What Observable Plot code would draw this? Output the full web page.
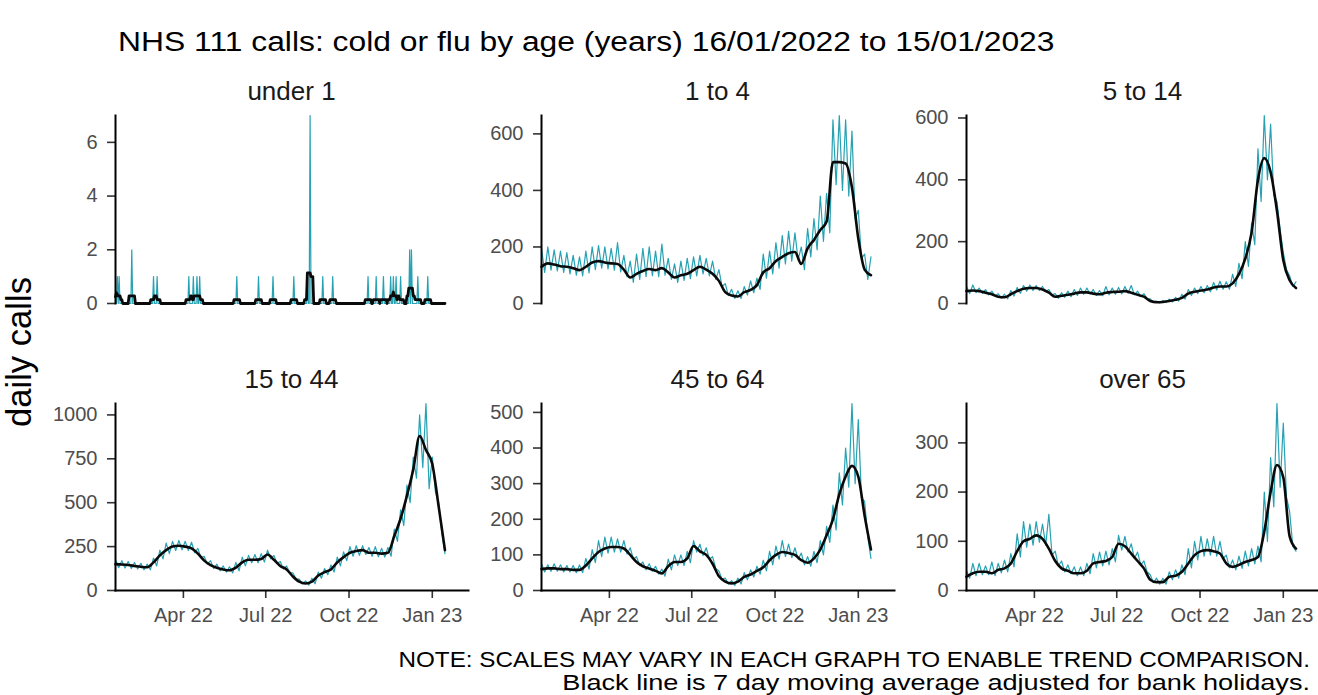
<!DOCTYPE html>
<html>
<head>
<meta charset="utf-8">
<script src="https://cdn.jsdelivr.net/npm/d3@7"></script>
<script src="https://cdn.jsdelivr.net/npm/@observablehq/plot@0.6"></script>
<style>
  html, body { margin: 0; padding: 0; background: #ffffff; }
  #root { position: relative; width: 1318px; height: 695px; overflow: hidden; background: #fff;
          font-family: "Liberation Sans", Arial, Helvetica, sans-serif; }
  #root svg.panel { position: absolute; overflow: visible; }
  #overlay { position: absolute; left: 0; top: 0; }
</style>
</head>
<body>
<div id="root"></div>
<script>
// ---------------- DATA ----------------
const chartTitle = "NHS 111 calls: cold or flu by age (years) 16/01/2022 to 15/01/2023";
const yAxisTitle = "daily calls";
const noteLine1 = "NOTE: SCALES MAY VARY IN EACH GRAPH TO ENABLE TREND COMPARISON.";
const noteLine2 = "Black line is 7 day moving average adjusted for bank holidays.";

const panelTitles = ["under 1", "1 to 4", "5 to 14", "15 to 44", "45 to 64", "over 65"];

// x axis: first day of the series, axis range and tick labels
const firstDay = "2022-01-16";
const xRange = ["2022-01-16", "2023-02-10"];
const xTickDates = ["2022-04-01", "2022-07-01", "2022-10-01", "2023-01-01"];
const xTickLabels = ["Apr 22", "Jul 22", "Oct 22", "Jan 23"];

// y tick labels per panel
const yTicksUnder1 = [0, 2, 4, 6];
const yTicks1to4 = [0, 200, 400, 600];
const yTicks5to14 = [0, 200, 400, 600];
const yTicks15to44 = [0, 250, 500, 750, 1000];
const yTicks45to64 = [0, 100, 200, 300, 400, 500];
const yTicksOver65 = [0, 100, 200, 300];

// under 1: days (from 16/01/2022) with non-zero calls, and their counts; all other days are 0
const under1Day   = [2, 4, 18, 42, 46, 81, 86, 90, 93, 134, 158, 174, 197, 212, 215, 229, 240, 279, 288, 296, 304, 307, 310, 315, 325, 327, 334, 345];
const under1Count = [1, 1, 2,  1,  1,  1,  1,  1,  1,  1,   1,   1,   1,   1,   7,   1,   1,   1,   1,   1,   1,   1,   1,   1,   2,   2,   1,   1];

// other panels: weekly readings (week 0 = 16/01/2022).
// hi = weekend high of daily calls, lo = mid-week low of daily calls, avg = 7 day moving average
const avg1to4 = [130,142,138,132,130,125,118,130,145,150,145,142,140,120,92,105,115,122,118,125,110,92,100,105,118,130,120,105,80,40,28,25,40,48,65,110,125,150,165,178,182,140,195,225,260,290,500,500,495,410,230,120,100];
const hi1to4  = [195,200,190,185,180,170,165,185,200,205,200,195,215,170,150,175,195,200,185,210,160,140,150,160,165,170,160,150,120,70,50,45,60,80,90,175,185,215,240,255,250,200,265,300,380,390,650,665,650,610,330,175,165];
const lo1to4  = [110,118,115,110,105,100,98,108,120,125,122,118,112,95,75,85,95,98,95,100,85,75,82,88,98,105,98,85,60,28,18,18,30,38,50,90,105,125,140,150,155,120,165,190,220,250,420,400,380,300,160,85];

const avg5to14 = [40,42,40,35,30,22,20,30,40,48,50,50,45,35,22,25,28,32,36,36,32,30,35,37,38,40,35,28,22,8,4,5,8,12,18,32,38,42,45,52,55,55,65,95,145,230,400,470,425,300,140,75,50];
const hi5to14  = [55,60,50,45,40,32,30,42,52,58,60,58,55,45,32,35,40,45,50,50,45,42,55,50,52,55,58,40,32,15,8,10,14,20,30,45,50,55,58,68,72,70,95,130,200,260,500,608,580,330,165,90,70];
const lo5to14  = [32,35,33,28,24,17,15,24,33,40,42,42,38,28,17,20,22,26,30,30,26,25,28,30,31,33,28,22,16,5,2,3,5,8,14,26,32,35,38,44,46,46,55,80,120,190,330,400,350,240,110,55];

const avg15to44 = [150,148,145,140,135,132,160,200,230,250,255,250,240,210,170,145,130,120,115,130,160,175,175,180,205,175,140,120,80,50,40,50,85,105,120,160,190,215,225,230,215,215,210,215,310,410,540,690,880,800,720,480,230];
const hi15to44  = [175,170,165,160,155,150,185,230,270,280,285,280,275,240,195,170,150,140,135,160,190,200,205,210,230,200,165,140,100,65,55,70,105,125,145,190,220,250,255,255,245,250,240,245,350,460,600,760,1000,1065,760,500,210];
const lo15to44  = [130,128,125,122,118,118,140,180,210,228,232,228,215,185,150,125,112,105,100,112,140,158,158,162,180,155,122,100,65,38,30,38,70,90,105,140,170,195,200,205,195,192,190,195,280,370,500,640,700,580,560,330];

const avg45to64 = [60,62,62,60,60,58,58,70,90,108,118,122,122,118,100,80,68,62,55,48,68,80,80,90,125,110,100,75,40,25,20,25,38,45,55,65,85,100,108,105,100,85,78,90,115,155,200,270,320,350,320,210,115];
const hi45to64  = [75,72,75,72,70,70,72,90,115,140,150,150,145,140,120,95,80,75,68,60,88,100,100,110,140,130,120,95,55,35,28,35,50,58,68,85,110,125,140,130,120,105,95,110,140,180,240,330,400,525,480,250,90];
const lo45to64  = [52,54,54,52,52,50,50,60,78,95,105,108,108,102,88,70,58,54,46,40,58,70,70,78,108,98,88,62,32,18,14,18,30,38,46,55,72,88,95,92,88,72,68,78,100,135,170,240,290,300,260,150];

const avgOver65 = [28,35,38,38,35,42,45,55,80,100,105,112,105,85,60,45,40,35,35,40,55,58,60,68,95,90,75,60,45,22,17,17,28,30,38,55,72,80,82,80,75,55,48,52,58,62,68,120,200,255,230,110,85];
const hiOver65  = [40,55,55,50,58,55,62,75,115,140,135,140,135,155,80,60,52,48,48,55,75,78,80,85,112,110,95,78,60,32,25,25,38,42,52,85,100,110,105,110,100,72,62,70,80,85,90,200,270,380,340,160,80];
const loOver65  = [25,30,32,32,30,36,38,48,68,88,92,98,92,72,50,38,34,30,30,34,46,50,52,58,82,78,65,52,38,16,13,13,22,25,32,46,62,70,72,70,65,46,42,45,50,54,58,100,170,210,190,90];

// ---------------- BUILD ----------------
const DAY = 864e5;
const t0 = Date.parse(firstDay);
const dayDate = d => new Date(t0 + d * DAY);

function dailyFromWeekly(hi, lo) {
  const pts = [];
  hi.forEach((v, i) => {
    pts.push({date: dayDate(7 * i), v});
    if (i < lo.length) pts.push({date: dayDate(7 * i + 3.5), v: lo[i]});
  });
  return pts;
}
function avgFromWeekly(avg) {
  return avg.map((v, i) => ({date: dayDate(7 * i), v}));
}

const under1Daily = d3.range(365).map(d => ({date: dayDate(d), v: 0}));
under1Day.forEach((d, i) => { under1Daily[d].v = under1Count[i]; });

const panels = [
  {title: panelTitles[0], ticks: yTicksUnder1, daily: under1Daily, avg: null},
  {title: panelTitles[1], ticks: yTicks1to4, daily: dailyFromWeekly(hi1to4, lo1to4), avg: avgFromWeekly(avg1to4)},
  {title: panelTitles[2], ticks: yTicks5to14, daily: dailyFromWeekly(hi5to14, lo5to14), avg: avgFromWeekly(avg5to14)},
  {title: panelTitles[3], ticks: yTicks15to44, daily: dailyFromWeekly(hi15to44, lo15to44), avg: avgFromWeekly(avg15to44)},
  {title: panelTitles[4], ticks: yTicks45to64, daily: dailyFromWeekly(hi45to64, lo45to64), avg: avgFromWeekly(avg45to64)},
  {title: panelTitles[5], ticks: yTicksOver65, daily: dailyFromWeekly(hiOver65, loOver65), avg: avgFromWeekly(avgOver65)}
];

// ---------------- LAYOUT ----------------
const W = 1318, H = 695;
const colX = [115, 541, 966];
const rowTop = [115, 403];
const plotW = 353;
const plotH = [188, 187];
const TEAL = "#26a2b3";
const FONT = "Liberation Sans, Arial, Helvetica, sans-serif";
const xDom = xRange.map(s => new Date(Date.parse(s)));
const xTicks = xTickDates.map(s => new Date(Date.parse(s)));

const root = document.getElementById("root");

panels.forEach((p, k) => {
  const row = Math.floor(k / 3), col = k % 3;
  const mL = 90, mR = 4, mT = 6, mB = row === 1 ? 50 : 6;
  const ymax = d3.max(p.daily, d => d.v);
  const marks = [
    Plot.axisY({ticks: p.ticks, tickFormat: d => String(d), tickSize: 8, tickPadding: 10,
                label: null, fontSize: 20, stroke: "#333", fill: "#4d4d4d", strokeWidth: 1.6}),
    Plot.lineY(p.daily, {x: "date", y: "v", stroke: TEAL, strokeWidth: 1.2}),
    p.avg
      ? Plot.lineY(p.avg, {x: "date", y: "v", stroke: "#0a0a0a", strokeWidth: 2.6, curve: "monotone-x"})
      : Plot.lineY(p.daily, Plot.windowY({k: 7, anchor: "middle", reduce: "mean"},
                    {x: "date", y: "v", stroke: "#0a0a0a", strokeWidth: 2.8})),
    Plot.frame({anchor: "left", stroke: "#000", strokeWidth: 2})
  ];
  if (row === 1) {
    marks.push(Plot.axisX({ticks: xTicks,
      tickFormat: d => xTickLabels[xTicks.findIndex(t => +t === +d)],
      tickSize: 8, tickPadding: 9, label: null, fontSize: 20, stroke: "#333", fill: "#4d4d4d", strokeWidth: 1.6}));
    marks.push(Plot.frame({anchor: "bottom", stroke: "#000", strokeWidth: 2}));
  }
  const svg = Plot.plot({
    width: mL + plotW + mR,
    height: mT + plotH[row] + mB,
    marginLeft: mL, marginRight: mR, marginTop: mT, marginBottom: mB,
    style: {fontFamily: FONT, fontSize: "20px", background: "transparent", overflow: "visible"},
    x: {type: "utc", domain: xDom, axis: row === 1 ? undefined : null},
    y: {domain: [0, ymax]},
    marks
  });
  svg.classList.add("panel");
  svg.style.left = (colX[col] - mL) + "px";
  svg.style.top = (rowTop[row] - mT) + "px";
  svg.style.maxWidth = "none";
  root.appendChild(svg);
});

// ---------------- TEXT ----------------
const ov = d3.select(root).append("svg").attr("id", "overlay")
  .attr("width", W).attr("height", H).style("font-family", FONT);

// text of a given font size, stretched horizontally to span the target width
function spanText(x, y, anchor, fs, target, txt) {
  const g = ov.append("g");
  const t = g.append("text").attr("font-size", fs).attr("text-anchor", anchor)
    .attr("fill", "#000").text(txt);
  const len = t.node().getComputedTextLength();
  g.attr("transform", `translate(${x},${y}) scale(${(target / len).toFixed(4)},1)`);
  return g;
}

spanText(118, 51, "start", 28, 937, chartTitle);

panels.forEach((p, k) => {
  const row = Math.floor(k / 3), col = k % 3;
  ov.append("text")
    .attr("x", colX[col] + plotW / 2)
    .attr("y", row === 0 ? 100 : 388)
    .attr("text-anchor", "middle")
    .attr("font-size", 26)
    .attr("fill", "#1a1a1a")
    .text(p.title);
});

const yl = ov.append("text").attr("transform", "translate(31,352) rotate(-90)")
  .attr("text-anchor", "middle").attr("font-size", 32).attr("fill", "#000")
  .text(yAxisTitle);
{
  const len = yl.node().getComputedTextLength();
  yl.attr("font-size", (32 * 150 / len).toFixed(2));
}

spanText(1310, 667, "end", 22, 912, noteLine1);
spanText(1310, 690, "end", 22, 748, noteLine2);
</script>
</body>
</html>
